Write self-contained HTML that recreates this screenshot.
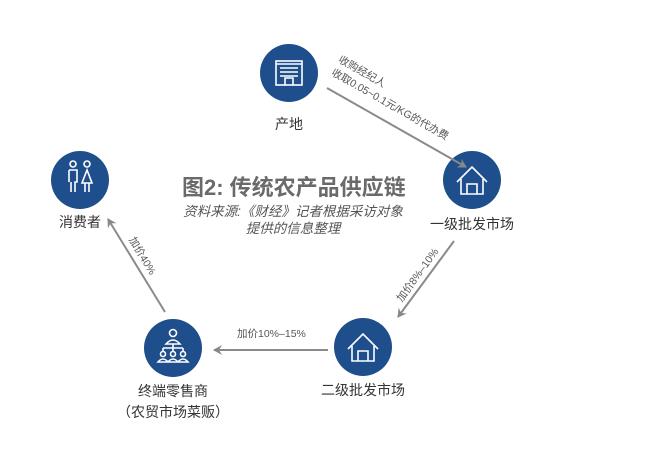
<!DOCTYPE html>
<html><head><meta charset="utf-8"><style>
body{margin:0;width:660px;height:468px;background:#fff;position:relative;overflow:hidden;font-family:"Liberation Sans","Noto Sans CJK SC",sans-serif;color:#333}
.t{position:absolute;white-space:nowrap}
.c{position:absolute;width:58px;height:58px;border-radius:50%;background:#1f4e8c}
.lb{position:absolute;font-size:14px;color:#333;text-align:center;width:140px;white-space:nowrap}
.r{position:absolute;font-size:10.5px;color:#555;white-space:nowrap;transform-origin:0 0}
</style></head><body>
<svg width="660" height="468" style="position:absolute;left:0;top:0">
<defs><marker id="a" markerWidth="10" markerHeight="10" refX="8" refY="5" orient="auto" markerUnits="userSpaceOnUse"><path d="M0,0 L9,5 L0,10 L3,5 z" fill="#888"/></marker></defs>
<g stroke="#8a8a8a" stroke-width="2" fill="none">
<line x1="327" y1="88" x2="466" y2="167" marker-end="url(#a)"/>
<line x1="454" y1="241" x2="398" y2="317" marker-end="url(#a)"/>
<line x1="328" y1="350" x2="214" y2="350" marker-end="url(#a)"/>
<line x1="165" y1="312" x2="108" y2="219" marker-end="url(#a)"/>
</g>
<g stroke="#fff" stroke-width="1.6" fill="none">
<rect x="276" y="61" width="26" height="24"/><line x1="276" y1="64" x2="302" y2="64"/>
<path d="M280 68h18M280 72h18M280 76h18M285 85v-7h8v7"/>
<path d="M457 182 L472 167 L487 182 M461 179 v15 h22 v-15 M467 194 v-10 h10 v10"/>
<path d="M348 349 L363 334 L378 349 M352 346 v15 h22 v-15 M358 361 v-10 h10 v10"/>
<circle cx="73" cy="164" r="3"/><circle cx="87" cy="164" r="3"/>
<path d="M69 170h8v12h-2v10M71 182v10M69 170v12"/>
<path d="M87 170 l-5 13 h10 z M85 183v9M89 183v9"/>
<circle cx="173" cy="333" r="3.5"/><path d="M166 344 q7 -8 14 0 z"/>
<path d="M173 344 v4 M163 348 h20 M163 348v3 M173 348v3 M183 348v3"/>
<circle cx="163" cy="354" r="2.5"/><circle cx="173" cy="354" r="2.5"/><circle cx="183" cy="354" r="2.5"/>
<path d="M158 362 q5-6 10 0 z M168 362 q5-6 10 0 z M178 362 q5-6 10 0 z"/>
</g>
</svg>
<div class="c" style="left:260px;top:44px;z-index:-1"></div>
<div class="c" style="left:443px;top:151px;z-index:-1"></div>
<div class="c" style="left:51px;top:151px;z-index:-1"></div>
<div class="c" style="left:334px;top:318px;z-index:-1"></div>
<div class="c" style="left:144px;top:319px;z-index:-1"></div>
<div class="lb" style="left:219px;top:114px">产地</div>
<div class="lb" style="left:402px;top:214px">一级批发市场</div>
<div class="lb" style="left:10px;top:212px">消费者</div>
<div class="lb" style="left:293px;top:380px">二级批发市场</div>
<div class="lb" style="left:103px;top:381px">终端零售商</div>
<div class="lb" style="left:103px;top:402px">（农贸市场菜贩）</div>
<div class="t" style="left:182px;top:170px;font-size:22px;font-weight:bold;color:#6a6a6a">图2: 传统农产品供应链</div>
<div class="t" style="left:168px;top:203px;font-size:13.5px;font-style:italic;color:#555;width:250px;text-align:center;line-height:17px;white-space:normal">资料来源:《财经》记者根据采访对象<br>提供的信息整理</div>
<div class="r" style="left:343px;top:52px;transform:rotate(29.6deg)">收购经纪人</div>
<div class="r" style="left:336px;top:65px;transform:rotate(29.6deg)">收取0.05~0.1元/KG的代办费</div>
<div class="r" style="left:393px;top:296px;transform:rotate(-54deg)">加价8%–10%</div>
<div class="t" style="left:237px;top:326px;font-size:10.5px;color:#555">加价10%–15%</div>
<div class="r" style="left:138px;top:234px;transform:rotate(59deg)">加价40%</div>
</body></html>
